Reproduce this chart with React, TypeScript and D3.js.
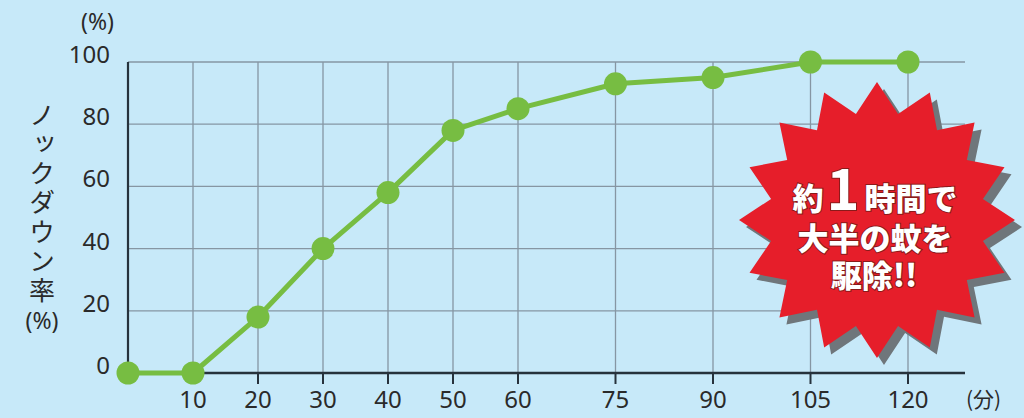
import React from "react";
import * as d3 from "d3";

const minutes = [0, 10, 20, 30, 40, 50, 60, 75, 90, 105, 120];
const knockdown = [0, 0, 18, 40, 58, 78, 85, 93, 95, 100, 100];
const xTicks = [10, 20, 30, 40, 50, 60, 75, 90, 105, 120];
const yTicks = [0, 20, 40, 60, 80, 100];
const yTitle = "ノックダウン率";
const burstLine2 = "大半の蚊を";
const burstLine3 = "駆除!!";

const W = 1024;
const H = 418;
const BG = "#c7e9f9";
const GRID = "#8696a3";
const AXIS = "#26323c";
const GREEN = "#77bd42";
const TXT = "#2a2a2a";

export default function App() {
  const x = d3.scaleLinear().domain([0, 120]).range([128, 908]);
  const y = d3.scaleLinear().domain([0, 100]).range([373, 62]);
  const plotRight = 965;
  const data = minutes.map((m, i) => ({ m, v: knockdown[i] }));
  const line = d3
    .line<{ m: number; v: number }>()
    .x((d) => x(d.m))
    .y((d) => y(d.v));

  // starburst
  const cx = 877;
  const cy = 220;
  const spikes = 16;
  const rOut = 138;
  const rIn = 108;
  const burstPts = d3.range(spikes * 2).map((i) => {
    const a = -Math.PI / 2 + (i * Math.PI) / spikes;
    const r = i % 2 === 0 ? rOut : rIn;
    return [cx + r * Math.cos(a), cy + r * Math.sin(a)] as [number, number];
  });
  const burstPath = d3.line().curve(d3.curveLinearClosed)(burstPts) || "";

  const sans = "'Noto Sans', 'DejaVu Sans', sans-serif";
  const cjk = "'Noto Sans CJK JP', 'Noto Sans', sans-serif";

  return (
    <svg
      width={W}
      height={H}
      style={{ position: "absolute", left: 0, top: 0, display: "block" }}
    >
      <rect x={0} y={0} width={W} height={H} fill={BG} />

      {/* horizontal grid */}
      {yTicks
        .filter((t) => t > 0)
        .map((t) => (
          <line
            key={"h" + t}
            x1={x(0)}
            x2={plotRight}
            y1={y(t)}
            y2={y(t)}
            stroke={GRID}
            strokeWidth={1.3}
          />
        ))}
      {/* vertical grid */}
      {xTicks.map((t) => (
        <line
          key={"v" + t}
          x1={x(t)}
          x2={x(t)}
          y1={y(100)}
          y2={y(0)}
          stroke={GRID}
          strokeWidth={1.3}
        />
      ))}
      {/* tick marks */}
      {xTicks.map((t) => (
        <line
          key={"t" + t}
          x1={x(t)}
          x2={x(t)}
          y1={y(0)}
          y2={y(0) + 11}
          stroke={AXIS}
          strokeWidth={2}
        />
      ))}
      {/* axes */}
      <line x1={x(0)} x2={x(0)} y1={y(100)} y2={y(0)} stroke={AXIS} strokeWidth={2.2} />
      <line x1={x(0)} x2={plotRight} y1={y(0)} y2={y(0)} stroke={AXIS} strokeWidth={2.4} />

      {/* y tick labels */}
      {yTicks.map((t) => (
        <text
          key={"yl" + t}
          x={110}
          y={y(t) + 1}
          textAnchor="end"
          fontFamily={sans}
          fontSize={24}
          fill={TXT}
        >
          {t}
        </text>
      ))}
      <text x={114} y={30} textAnchor="end" fontFamily={sans} fontSize={23} fill={TXT}>
        (%)
      </text>

      {/* x tick labels */}
      {xTicks.map((t) => (
        <text
          key={"xl" + t}
          x={x(t)}
          y={408}
          textAnchor="middle"
          fontFamily={sans}
          fontSize={24}
          fill={TXT}
        >
          {t}
        </text>
      ))}
      <text x={966} y={407} fontFamily={cjk} fontSize={21} fill={TXT}>
        (分)
      </text>

      {/* y title, vertical */}
      <text
        x={42}
        y={102}
        fontFamily={cjk}
        fontSize={26}
        fill={TXT}
        letterSpacing={3.2}
        style={{ writingMode: "vertical-rl", textOrientation: "upright" } as any}
      >
        {yTitle}
      </text>
      <text x={42} y={329} textAnchor="middle" fontFamily={sans} fontSize={23} fill={TXT}>
        (%)
      </text>

      {/* data line */}
      <path d={line(data) || ""} fill="none" stroke={GREEN} strokeWidth={5} strokeLinejoin="round" />
      {data.map((d, i) => (
        <circle key={"c" + i} cx={x(d.m)} cy={y(d.v)} r={11.5} fill={GREEN} />
      ))}

      {/* starburst */}
      <path d={burstPath} fill="#6f767b" transform="translate(7,7)" />
      <path d={burstPath} fill="#e61e2a" />
      <text
        fontFamily={cjk}
        fontWeight={900}
        fill="#ffffff"
        stroke="#8a1a1a"
        strokeWidth={2}
        textAnchor="middle"
        style={{ paintOrder: "stroke" }}
      >
        <tspan x={875} y={210} fontSize={31}>約</tspan>
        <tspan
          fontSize={56}
          dx={3}
          fontFamily="'Liberation Sans Narrow', 'Noto Sans CJK JP', sans-serif"
          fontWeight={700}
        >
          1
        </tspan>
        <tspan fontSize={31} dx={5}>時間で</tspan>
        <tspan x={875} y={250} fontSize={31}>{burstLine2}</tspan>
        <tspan x={874} y={287} fontSize={31}>{burstLine3}</tspan>
      </text>
    </svg>
  );
}
